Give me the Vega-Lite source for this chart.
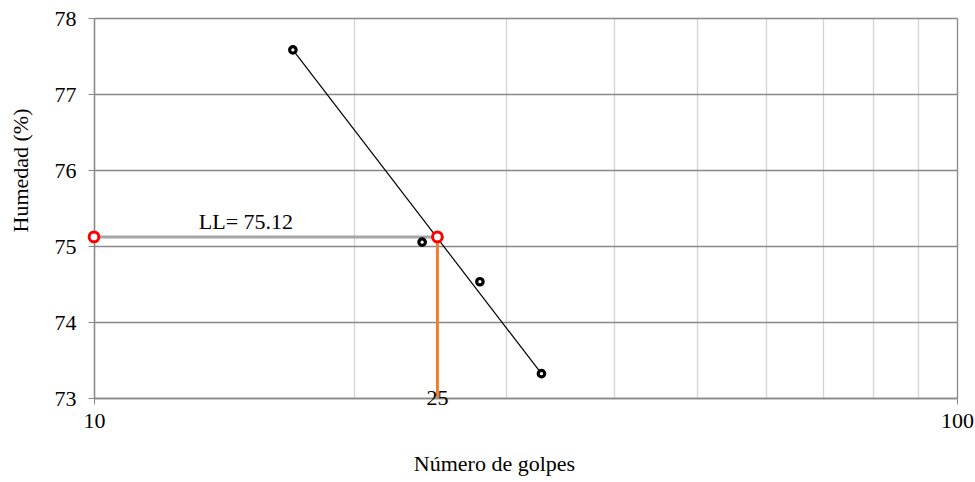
{
  "$schema": "https://vega.github.io/schema/vega-lite/v6.json",
  "width": 863,
  "height": 380,
  "autosize": {"type": "none"},
  "padding": {"left": 94, "top": 18, "right": 18, "bottom": 84},
  "background": "white",
  "config": {
    "view": {"stroke": null},
    "font": "Liberation Serif",
    "axis": {"labelFont": "Liberation Serif", "titleFont": "Liberation Serif"}
  },
  "datasets": {
    "puntos": [
      {"golpes": 17, "humedad": 77.58},
      {"golpes": 24, "humedad": 75.05},
      {"golpes": 28, "humedad": 74.53},
      {"golpes": 33, "humedad": 73.32}
    ],
    "tendencia": [
      {"golpes": 17, "humedad": 77.58},
      {"golpes": 33, "humedad": 73.32}
    ],
    "ll": [
      {"golpes": 10, "humedad": 75.12},
      {"golpes": 25, "humedad": 75.12}
    ],
    "horizontal": [{"x1": 10, "x2": 25, "y": 75.12}],
    "vertical": [{"x": 25, "y1": 73, "y2": 75.12}],
    "etiquetas": [
      {"golpes": 15.0, "humedad": 75.12, "texto": "LL= 75.12", "tipo": "ll"},
      {"golpes": 25, "humedad": 73, "texto": "25", "tipo": "n"}
    ]
  },
  "layer": [
    {
      "data": {"name": "horizontal"},
      "mark": {"type": "rule", "color": "#a6a6a6", "strokeWidth": 3},
      "encoding": {
        "x": {"field": "x1", "type": "quantitative", "scale": {"type": "log", "domain": [10, 100], "nice": false},
          "axis": {
            "title": "Número de golpes",
            "titleFont": "Liberation Serif",
            "titleFontSize": 22,
            "titleFontWeight": "normal",
            "titleColor": "black",
            "titleX": 400,
            "titleAnchor": "middle",
            "labelFont": "Liberation Serif",
            "labelFontSize": 22,
            "labelColor": "black",
            "values": [10, 20, 30, 40, 50, 60, 70, 80, 90, 100],
            "labelExpr": "datum.value == 10 || datum.value == 100 ? format(datum.value, 'd') : ''",
            "grid": true,
            "gridColor": {"condition": {"test": "datum.value == 10 || datum.value == 100", "value": "#888888"}, "value": "#d4d4d4"},
            "gridWidth": 1.3,
            "tickColor": {"condition": {"test": "datum.value == 10 || datum.value == 100", "value": "#888888"}, "value": "transparent"},
            "tickSize": 6,
            "domainColor": "#888888",
            "domainWidth": 1.3,
            "labelPadding": 6,
            "titlePadding": 22,
            "labelFlush": false,
            "labelOverlap": false
          }},
        "x2": {"field": "x2"},
        "y": {"field": "y", "type": "quantitative", "scale": {"domain": [73, 78], "nice": false, "zero": false},
          "axis": {
            "title": "Humedad (%)",
            "titleFont": "Liberation Serif",
            "titleFontSize": 22,
            "titleFontWeight": "normal",
            "titleColor": "black",
            "titleX": -74,
            "titleY": 152,
            "titleAngle": -90,
            "titleAlign": "center",
            "titleBaseline": "middle",
            "labelFont": "Liberation Serif",
            "labelFontSize": 22,
            "labelColor": "black",
            "format": "d",
            "values": [73, 74, 75, 76, 77, 78],
            "grid": true,
            "gridColor": "#888888",
            "gridWidth": 1.3,
            "tickColor": "#888888",
            "tickSize": 6,
            "domainColor": "#888888",
            "domainWidth": 1.3,
            "labelPadding": 12
          }}
      }
    },
    {
      "data": {"name": "vertical"},
      "mark": {"type": "rule", "color": "#ed7d31", "strokeWidth": 3},
      "encoding": {
        "x": {"field": "x", "type": "quantitative"},
        "y": {"field": "y1", "type": "quantitative"},
        "y2": {"field": "y2"}
      }
    },
    {
      "data": {"name": "tendencia"},
      "mark": {"type": "line", "color": "black", "strokeWidth": 1.2},
      "encoding": {
        "x": {"field": "golpes", "type": "quantitative"},
        "y": {"field": "humedad", "type": "quantitative"}
      }
    },
    {
      "data": {"name": "puntos"},
      "mark": {"type": "point", "shape": "circle", "filled": false, "fill": "white", "fillOpacity": 1, "stroke": "black", "strokeWidth": 3.2, "size": 42, "opacity": 1},
      "encoding": {
        "x": {"field": "golpes", "type": "quantitative"},
        "y": {"field": "humedad", "type": "quantitative"}
      }
    },
    {
      "data": {"name": "ll"},
      "mark": {"type": "point", "shape": "circle", "filled": false, "fill": "white", "fillOpacity": 1, "stroke": "#ff0000", "strokeWidth": 3, "size": 95, "opacity": 1},
      "encoding": {
        "x": {"field": "golpes", "type": "quantitative"},
        "y": {"field": "humedad", "type": "quantitative"}
      }
    },
    {
      "data": {"name": "etiquetas"},
      "transform": [{"filter": "datum.tipo == 'll'"}],
      "mark": {"type": "text", "font": "Liberation Serif", "fontSize": 22, "color": "black", "baseline": "alphabetic", "align": "center", "dy": -8},
      "encoding": {
        "x": {"field": "golpes", "type": "quantitative"},
        "y": {"field": "humedad", "type": "quantitative"},
        "text": {"field": "texto"}
      }
    },
    {
      "data": {"name": "etiquetas"},
      "transform": [{"filter": "datum.tipo == 'n'"}],
      "mark": {"type": "text", "font": "Liberation Serif", "fontSize": 22, "color": "black", "baseline": "middle", "align": "center"},
      "encoding": {
        "x": {"field": "golpes", "type": "quantitative"},
        "y": {"field": "humedad", "type": "quantitative"},
        "text": {"field": "texto"}
      }
    }
  ]
}
